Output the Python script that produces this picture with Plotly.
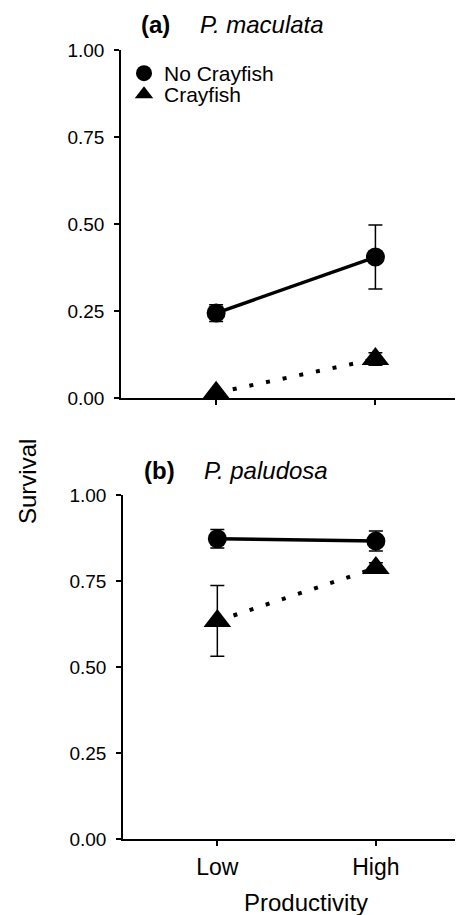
import plotly.graph_objects as go

categories = ["Low", "High"]
x_pos = [1, 2]
yticks = [0, 0.25, 0.5, 0.75, 1.0]

# Panel (a) P. maculata
a_no_cray = [0.244, 0.405]
a_no_cray_err = [0.024, 0.092]
a_cray = [0.015, 0.112]
a_cray_err = [0.0, 0.018]

# Panel (b) P. paludosa
b_no_cray = [0.873, 0.866]
b_no_cray_err = [0.027, 0.029]
b_cray = [0.634, 0.788]
b_cray_err = [0.103, 0.015]

W, H = 463, 915
OFF = 8  # page body margin (px)
FONT = "Liberation Sans, Arial, sans-serif"


def px(x):
    return (x - OFF) / W


def py(y):
    return 1 - (y - OFF) / H


fig = go.Figure()


def add_panel(xa, ya, no_cray, no_err, cray, cray_err):
    fig.add_trace(go.Scatter(
        x=x_pos, y=no_cray, xaxis=xa, yaxis=ya, mode="lines+markers",
        line=dict(color="black", width=3.5),
        marker=dict(symbol="circle", size=19, color="black"),
        error_y=dict(type="data", array=no_err, visible=True, color="black",
                     thickness=1.5, width=7),
        showlegend=False, cliponaxis=False))
    fig.add_trace(go.Scatter(
        x=x_pos, y=cray, xaxis=xa, yaxis=ya, mode="lines+markers",
        line=dict(color="black", width=4, dash="4px,13px"),
        marker=dict(symbol="triangle-up", size=24, color="black"),
        error_y=dict(type="data", array=cray_err, visible=True, color="black",
                     thickness=1.5, width=7),
        showlegend=False, cliponaxis=False))


add_panel("x", "y", a_no_cray, a_no_cray_err, a_cray, a_cray_err)
add_panel("x2", "y2", b_no_cray, b_no_cray_err, b_cray, b_cray_err)

# legend entries (one legend box per entry for tight spacing)
fig.add_trace(go.Scatter(x=[None], y=[None], mode="markers", name="No Crayfish",
                         legend="legend",
                         marker=dict(symbol="circle", size=19, color="black")))
fig.add_trace(go.Scatter(x=[None], y=[None], mode="markers", name="Crayfish",
                         legend="legend2",
                         marker=dict(symbol="triangle-up", size=24, color="black")))

axis_common = dict(showline=True, linecolor="black", linewidth=1.5, showgrid=False,
                   zeroline=False, ticks="outside", ticklen=5, tickwidth=1.5,
                   tickcolor="black", automargin=False)

legend_common = dict(xanchor="left", yanchor="top", font=dict(size=21),
                     bgcolor="rgba(0,0,0,0)", borderwidth=0)

fig.update_layout(
    width=W, height=H,
    margin=dict(l=0, r=0, t=0, b=0, pad=0, autoexpand=False),
    paper_bgcolor="white", plot_bgcolor="white",
    font=dict(family=FONT, color="black"),
    xaxis=dict(domain=[px(121), 1.0], range=[0.403, 2.6], anchor="y",
               tickvals=x_pos, ticktext=["", ""], **axis_common),
    yaxis=dict(domain=[py(398), py(50)], range=[0, 1], anchor="x",
               tickvals=yticks, tickformat=".2f", tickfont=dict(size=19),
               ticklabelstandoff=6, **axis_common),
    xaxis2=dict(domain=[px(123), 1.0], range=[0.405, 2.6], anchor="y2",
                tickvals=x_pos, ticktext=categories, tickfont=dict(size=23),
                ticklabelstandoff=2, **axis_common),
    yaxis2=dict(domain=[py(839), py(495)], range=[0, 1], anchor="x2",
                tickvals=yticks, tickformat=".2f", tickfont=dict(size=19),
                ticklabelstandoff=6, **axis_common),
    legend=dict(x=px(124), y=py(53), **legend_common),
    legend2=dict(x=px(124), y=py(74), **legend_common),
    annotations=[
        dict(text="<b>(a)</b>", x=px(139), y=py(25), xref="paper", yref="paper",
             xanchor="left", yanchor="middle", showarrow=False, font=dict(size=24)),
        dict(text="<i>P. maculata</i>", x=px(198), y=py(25), xref="paper", yref="paper",
             xanchor="left", yanchor="middle", showarrow=False, font=dict(size=24)),
        dict(text="<b>(b)</b>", x=px(142), y=py(470), xref="paper", yref="paper",
             xanchor="left", yanchor="middle", showarrow=False, font=dict(size=24)),
        dict(text="<i>P. paludosa</i>", x=px(202), y=py(470), xref="paper", yref="paper",
             xanchor="left", yanchor="middle", showarrow=False, font=dict(size=24)),
        dict(text="Survival", x=px(27), y=py(482), xref="paper", yref="paper",
             xanchor="center", yanchor="middle", textangle=-90, showarrow=False,
             font=dict(size=24)),
        dict(text="Productivity", x=px(306), y=py(902), xref="paper", yref="paper",
             xanchor="center", yanchor="middle", showarrow=False, font=dict(size=24)),
    ],
)

fig.write_html("out.html")
